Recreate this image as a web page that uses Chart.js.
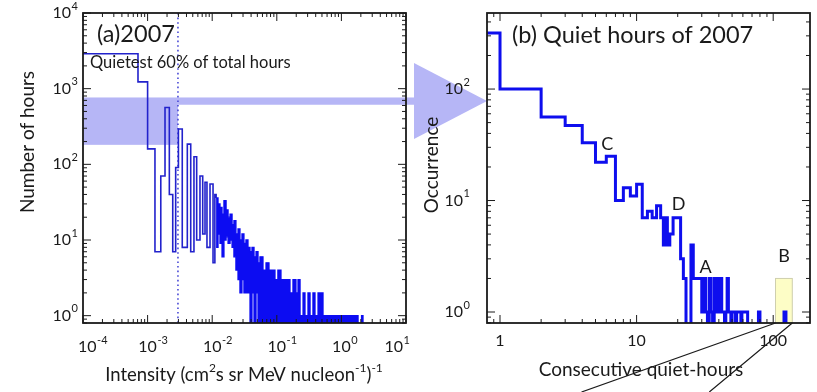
<!DOCTYPE html>
<html>
<head>
<meta charset="utf-8">
<script src="https://cdn.jsdelivr.net/npm/chart.js@4.4.0/dist/chart.umd.min.js"></script>
<style>
html, body { margin: 0; padding: 0; background: #fff; }
#wrap { position: relative; width: 817px; height: 392px; overflow: hidden; }
#wrap canvas { position: absolute; left: 0; top: 0; }
</style>
</head>
<body>
<div id="wrap">
  <canvas id="chart-a" width="817" height="392"></canvas>
  <canvas id="chart-b" width="817" height="392"></canvas>
</div>
<script>
// (a) hourly intensity histogram of 2007 (bin left edge -> number of hours)
const sparseEdges = [1e-4, 7.1e-4, 1.0e-3, 1.3e-3, 1.6e-3, 1.86e-3, 2.17e-3, 2.45e-3, 2.72e-3, 3.0e-3, 3.44e-3, 4.12e-3,
  4.65e-3, 5.22e-3, 5.75e-3, 6.47e-3, 7.13e-3, 7.74e-3, 8.3e-3, 9.25e-3, 1.03e-2, 1.1e-2, 1.15e-2];
const sparseHours = [2900, 1230, 160, 7, 70, 565, 40, 7, 91, 293, 8, 185,
  7, 126, 10, 70, 12, 58, 8, 55, 5, 40, 36];

// dense tail: bins too narrow to separate, kept as upper / lower envelope
const denseEdges = [0.0115, 0.0123, 0.0132, 0.0142, 0.0152, 0.0164, 0.0176, 0.0189, 0.0203, 0.0217, 0.0233, 0.0251,
  0.0269, 0.0289, 0.0310, 0.0333, 0.0358, 0.0385, 0.0413, 0.0444, 0.0477, 0.0512, 0.0549, 0.0611, 0.0681, 0.0757,
  0.0843, 0.0937, 0.104, 0.116, 0.129, 0.144, 0.160, 0.178, 0.198, 0.213, 0.229, 0.255, 0.273, 0.304, 0.327, 0.363,
  0.390, 0.435, 0.519, 1.81, 2.05, 2.16, 2.32];
const denseMax = [36, 30, 27, 22, 33, 25, 20, 22, 16, 18, 12, 14,
  10, 12, 9, 10, 8, 7, 8, 6, 7, 5, 6, 4, 5, 4,
  4, 3, 4, 3, 3, 3, 2, 3, 2, 3, 1, 2, 1, 2, 1, 2,
  1, 2, 1, 0, 1, 0, 0];
const denseMin = [8, 12, 9, 6, 10, 11, 9, 10, 8, 6, 4, 3,
  2, 3, 2, 2, 2, 0, 2, 0, 2, 0, 0, 0, 0, 0,
  0, 0, 0, 0, 0, 0, 0, 0, 0, 0, 0, 0, 0, 0, 0, 0,
  0, 0, 0, 0, 0, 0, 0];

// quiet-hour selection (60 % of hours) and the band carried over to (b)
const quietCut = 2.95e-3;
const bandTop = 765, bandBottom = 181, stemBottom = 613;

// (b) runs of consecutive quiet hours (bin left edge -> occurrence)
const quietEdges = [0.5, 1, 2, 3, 4, 5, 6, 7, 8, 9, 10, 11, 12, 13, 14, 15, 15.7, 16.3, 16.8, 17.5, 18.5,
  21, 22, 23, 25, 26, 30, 31, 32, 33, 34, 35, 36, 37, 38, 39, 40, 41, 42, 44, 45, 46, 47, 49, 50,
  53, 54, 58, 59, 65, 78, 80, 120, 124, 200];
const occurrence = [318, 100, 56, 47, 33, 22, 25, 10, 13, 11, 14, 7, 8, 7, 9, 7, 4, 7, 4, 5, 7,
  3, 2, 0, 4, 2, 1, 2, 1, 0, 2, 1, 0, 2, 1, 2, 1, 2, 1, 0, 1, 2, 1, 0, 1,
  0, 1, 0, 1, 0, 1, 0, 1, 0, 0];

// event markers in (b)
const markLabels = ['C', 'D', 'A', 'B'];
const markHours = [6.1, 20.3, 32, 120];
const markCounts = [32, 9.3, 2.5, 3.2];
const boxHours = [104, 138], boxCount = 2;

// tick labels
const decadesAx = [-4, -3, -2, -1, 0, 1];
const decadesAy = [0, 1, 2, 3, 4];
const ticksBx = [1, 10, 100];
const decadesBy = [0, 1, 2];

const FONT = 'Lato, "Open Sans", sans-serif';
const INK = '#1a1a1a';
const LINE_A = '#2222cc';
const FILL_A = '#0c0cf2';
const LINE_B = '#0e0eee';
const BAND = 'rgb(182,182,246)';
const DOT = '#4a4ad6';

// zero counts sit below the log axis and get clipped
const pts = (xs, ys) => xs.map((x, i) => ({ x: x, y: ys[i] > 0 ? ys[i] : 0.5 }));

function drawFrame(chart) {
  const { ctx, chartArea: a } = chart;
  ctx.save();
  ctx.strokeStyle = INK;
  ctx.lineWidth = 1.8;
  ctx.strokeRect(a.left, a.top, a.right - a.left, a.bottom - a.top);
  ctx.lineWidth = 1;
  ['x', 'y'].forEach(function (id) {
    const s = chart.scales[id];
    const lo = Math.floor(Math.log10(s.min)), hi = Math.ceil(Math.log10(s.max));
    for (let e = lo; e <= hi; e++) {
      for (let m = 1; m <= 9; m++) {
        const v = m * Math.pow(10, e);
        if (v < s.min || v > s.max) continue;
        const p = s.getPixelForValue(v);
        const len = m === 1 ? 8 : 4;
        ctx.beginPath();
        if (id === 'x') {
          ctx.moveTo(p, a.bottom); ctx.lineTo(p, a.bottom - len);
          ctx.moveTo(p, a.top); ctx.lineTo(p, a.top + len);
        } else {
          ctx.moveTo(a.left, p); ctx.lineTo(a.left + len, p);
          ctx.moveTo(a.right, p); ctx.lineTo(a.right - len, p);
        }
        ctx.stroke();
      }
    }
  });
  ctx.restore();
}

// "10" with a raised exponent, starting at left
function drawPower(ctx, left, midY, exp) {
  ctx.font = '16px ' + FONT;
  ctx.textAlign = 'left';
  ctx.textBaseline = 'middle';
  ctx.fillText('10', left, midY);
  const w = ctx.measureText('10').width;
  ctx.font = '11px ' + FONT;
  ctx.fillText(exp, left + w + 0.5, midY - 7);
}
function powerWidths(ctx, exp) {
  ctx.font = '16px ' + FONT;
  const w = ctx.measureText('10').width;
  ctx.font = '11px ' + FONT;
  return [w, ctx.measureText(exp).width + 0.5];
}

function rotatedText(ctx, text, x, y, size) {
  ctx.save();
  ctx.translate(x, y);
  ctx.rotate(-Math.PI / 2);
  ctx.font = size + 'px ' + FONT;
  ctx.textAlign = 'center';
  ctx.textBaseline = 'middle';
  ctx.fillText(text, 0, 0);
  ctx.restore();
}

// text made of runs, some raised as superscripts, centred on x
function runText(ctx, runs, cx, midY, size, supSize) {
  let total = 0;
  runs.forEach(function (r) {
    ctx.font = (r.sup ? supSize : size) + 'px ' + FONT;
    total += ctx.measureText(r.t).width;
  });
  let x = cx - total / 2;
  ctx.textAlign = 'left';
  ctx.textBaseline = 'middle';
  runs.forEach(function (r) {
    ctx.font = (r.sup ? supSize : size) + 'px ' + FONT;
    ctx.fillText(r.t, x, r.sup ? midY - 7 : midY);
    x += ctx.measureText(r.t).width;
  });
}

const panelA = {
  id: 'panelA',
  beforeDatasetsDraw(chart) {
    const { ctx, chartArea: a, scales: { x, y } } = chart;
    const xc = x.getPixelForValue(quietCut);
    const yt = y.getPixelForValue(bandTop);
    const yb = y.getPixelForValue(bandBottom);
    const ys = y.getPixelForValue(stemBottom);
    const baseX = a.right + 8, tipX = a.right + 81, tipY = (yt + ys) / 2;
    ctx.save();
    ctx.fillStyle = BAND;
    ctx.fillRect(a.left, yt, xc - a.left, yb - yt);
    ctx.fillRect(xc, yt, baseX - xc, ys - yt);
    ctx.beginPath();
    ctx.moveTo(baseX, tipY - 38);
    ctx.lineTo(tipX, tipY);
    ctx.lineTo(baseX, tipY + 38);
    ctx.closePath();
    ctx.fill();
    ctx.strokeStyle = DOT;
    ctx.lineWidth = 1.6;
    ctx.setLineDash([1.6, 3]);
    ctx.beginPath();
    ctx.moveTo(xc, a.top);
    ctx.lineTo(xc, a.bottom);
    ctx.stroke();
    ctx.restore();
  },
  afterDraw(chart) {
    const { ctx, chartArea: a, scales: { x, y } } = chart;
    drawFrame(chart);
    ctx.save();
    ctx.fillStyle = INK;
    decadesAx.forEach(function (e) {
      const exp = String(e);
      const [w, ws] = powerWidths(ctx, exp);
      let left = x.getPixelForValue(Math.pow(10, e)) - w / 2;
      if (left < a.left - 5) left = a.left - 5;
      if (left + w + ws > a.right + 4) left = a.right + 4 - w - ws;
      drawPower(ctx, left, 347, exp);
    });
    decadesAy.forEach(function (e) {
      const exp = String(e);
      const [w, ws] = powerWidths(ctx, exp);
      drawPower(ctx, a.left - 5 - w - ws, y.getPixelForValue(Math.pow(10, e)), exp);
    });
    rotatedText(ctx, 'Number of hours', 28, 142, 19);
    runText(ctx, [{ t: 'Intensity (cm' }, { t: '2', sup: true }, { t: 's sr MeV nucleon' }, { t: '-1', sup: true },
      { t: ')' }, { t: '-1', sup: true }], 244, 375, 18.5, 12);
    ctx.font = '23.5px ' + FONT;
    ctx.textAlign = 'left';
    ctx.textBaseline = 'middle';
    ctx.fillText('(a)2007', 97, 34);
    ctx.font = '16.5px ' + FONT;
    ctx.fillText('Quietest 60% of total hours', 90, 63);
    ctx.restore();
  }
};

const panelB = {
  id: 'panelB',
  beforeDatasetsDraw(chart) {
    const { ctx, chartArea: a, scales: { x, y } } = chart;
    const x0 = x.getPixelForValue(boxHours[0]), x1 = x.getPixelForValue(boxHours[1]);
    const yTop = y.getPixelForValue(boxCount);
    ctx.save();
    ctx.fillStyle = '#fdfdc6';
    ctx.strokeStyle = '#cfcfae';
    ctx.lineWidth = 1;
    ctx.fillRect(x0, yTop, x1 - x0, a.bottom - yTop);
    ctx.strokeRect(x0, yTop, x1 - x0, a.bottom - yTop);
    ctx.restore();
  },
  afterDraw(chart) {
    const { ctx, chartArea: a, scales: { x, y } } = chart;
    drawFrame(chart);
    ctx.save();
    ctx.fillStyle = INK;
    ctx.font = '16px ' + FONT;
    ctx.textAlign = 'center';
    ctx.textBaseline = 'middle';
    ticksBx.forEach(function (v) {
      ctx.fillText(String(v), x.getPixelForValue(v), 341);
    });
    decadesBy.forEach(function (e) {
      const exp = String(e);
      const [w, ws] = powerWidths(ctx, exp);
      drawPower(ctx, a.left - 17 - w - ws, y.getPixelForValue(Math.pow(10, e)), exp);
    });
    rotatedText(ctx, 'Occurrence', 432, 165, 19);
    ctx.font = '19px ' + FONT;
    ctx.textAlign = 'center';
    ctx.textBaseline = 'middle';
    ctx.fillText('Consecutive quiet-hours', 641, 370);
    ctx.font = '18px ' + FONT;
    markLabels.forEach(function (t, i) {
      ctx.fillText(t, x.getPixelForValue(markHours[i]), y.getPixelForValue(markCounts[i]));
    });
    ctx.font = '23.5px ' + FONT;
    ctx.textAlign = 'left';
    ctx.fillText('(b) Quiet hours of 2007', 512, 35);
    // guide lines from the B box towards the zoomed panel below
    const x0 = x.getPixelForValue(boxHours[0]), x1 = x.getPixelForValue(boxHours[1]);
    ctx.strokeStyle = INK;
    ctx.lineWidth = 1.2;
    ctx.beginPath();
    ctx.moveTo(x0, a.bottom);
    ctx.lineTo(x0 - 194, 392);
    ctx.moveTo(x1, a.bottom);
    ctx.lineTo(x1 - 83, 392);
    ctx.stroke();
    ctx.restore();
  }
};

const common = {
  responsive: false,
  animation: false,
  devicePixelRatio: 1,
  events: [],
  plugins: { legend: { display: false }, tooltip: { enabled: false } }
};

new Chart(document.getElementById('chart-a'), {
  type: 'line',
  data: {
    datasets: [
      { data: pts(sparseEdges, sparseHours), stepped: 'before', borderColor: LINE_A, borderWidth: 1.6,
        pointRadius: 0, fill: false },
      { data: pts(denseEdges, denseMax), stepped: 'before', borderColor: FILL_A, borderWidth: 1.3,
        pointRadius: 0, fill: '+1', backgroundColor: FILL_A },
      { data: pts(denseEdges, denseMin), stepped: 'before', borderColor: FILL_A, borderWidth: 1.3,
        pointRadius: 0, fill: false }
    ]
  },
  options: Object.assign({}, common, {
    layout: { padding: { left: 83, top: 13, right: 817 - 406, bottom: 392 - 323 } },
    scales: {
      x: { type: 'logarithmic', min: 1e-4, max: 10, display: false },
      y: { type: 'logarithmic', min: 0.8, max: 1e4, display: false }
    }
  }),
  plugins: [panelA]
});

new Chart(document.getElementById('chart-b'), {
  type: 'line',
  data: {
    datasets: [
      { data: pts(quietEdges, occurrence), stepped: 'before', borderColor: LINE_B, borderWidth: 3,
        pointRadius: 0, fill: false }
    ]
  },
  options: Object.assign({}, common, {
    layout: { padding: { left: 487, top: 13, right: 817 - 810, bottom: 392 - 323 } },
    scales: {
      x: { type: 'logarithmic', min: 0.803, max: 186, display: false },
      y: { type: 'logarithmic', min: 0.797, max: 481, display: false }
    }
  }),
  plugins: [panelB]
});
</script>
</body>
</html>
